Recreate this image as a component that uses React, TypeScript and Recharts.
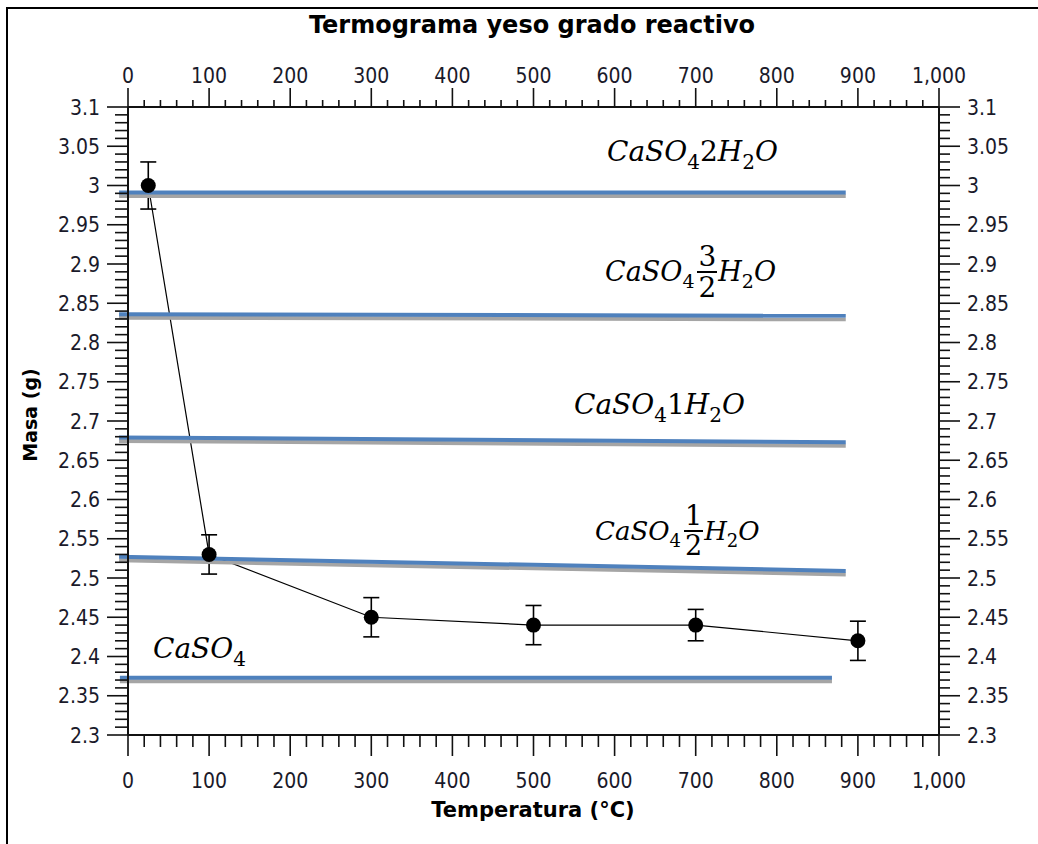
import React from 'react';
import {
  ComposedChart,
  Line,
  XAxis,
  YAxis,
  ErrorBar,
  ReferenceLine,
} from 'recharts';

// measured points (temperature °C, mass g, +- error)
const temps = [25, 100, 300, 500, 700, 900];
const masses = [3.0, 2.53, 2.45, 2.44, 2.44, 2.42];
const errors = [0.03, 0.025, 0.025, 0.025, 0.02, 0.025];

// theoretical hydrate levels (start/end of each band)
const levelStartT = [-11, -11, -11, -11, -10];
const levelEndT = [885, 885, 885, 885, 868];
const levelStartMass = [2.991, 2.836, 2.679, 2.527, 2.373];
const levelEndMass = [2.991, 2.834, 2.673, 2.509, 2.373];

// axis ticks: minor every 20 / 0.01, labels on the major ones
const xTicks = Array.from({ length: 51 }, (_, i) => i * 20);
const yTicks = Array.from({ length: 81 }, (_, i) => (230 + i) / 100);

const data = temps.map((t, i) => ({ temp: t, mass: masses[i], err: errors[i] }));

const TICK_FONT = "'DejaVu Sans Condensed', 'DejaVu Sans', sans-serif";
const AXIS = '#111';

const fmtX = (v: number) => v.toLocaleString('en-US');
const fmtY = (v: number) => String(parseFloat(v.toFixed(2)));

const XTick = (props: any) => {
  const { x, y, payload, side } = props;
  const v = payload.value as number;
  const major = Math.round(v) % 100 === 0;
  const top = side === 'top';
  const len = major ? (top ? 19 : 21) : top ? 7 : 12;
  const dir = top ? -1 : 1;
  return (
    <g>
      <line x1={x} x2={x} y1={y} y2={y + dir * len} stroke={AXIS} strokeWidth={1.6} />
      {major && (
        <text
          x={x}
          y={top ? y - 32 : y + 45}
          dy="0.36em"
          textAnchor="middle"
          fontFamily={TICK_FONT}
          fontSize={21}
          fill="#1a1a2a"
        >
          {fmtX(v)}
        </text>
      )}
    </g>
  );
};

const YTick = (props: any) => {
  const { x, y, payload, side } = props;
  const v = payload.value as number;
  const major = Math.round(v * 100) % 5 === 0;
  const right = side === 'right';
  const len = major ? 21 : right ? 11 : 13;
  const dir = right ? 1 : -1;
  return (
    <g>
      <line x1={x} x2={x + dir * len} y1={y} y2={y} stroke={AXIS} strokeWidth={1.6} />
      {major && (
        <text
          x={right ? x + 28 : x - 28}
          y={y}
          dy="0.36em"
          textAnchor={right ? 'start' : 'end'}
          fontFamily={TICK_FONT}
          fontSize={21}
          fill="#1a1a2a"
        >
          {fmtY(v)}
        </text>
      )}
    </g>
  );
};

// blue band with a grey shadow just below it
const LevelShape = (p: any) => (
  <g>
    <line x1={p.x1} y1={p.y1 + 3.5} x2={p.x2} y2={p.y2 + 3.5} stroke="#a5a5a5" strokeWidth={4} />
    <line x1={p.x1} y1={p.y1} x2={p.x2} y2={p.y2} stroke="#4f81bd" strokeWidth={4} />
  </g>
);

const Formula = ({
  left,
  baseline,
  coef,
  frac,
  size = 28,
}: {
  left: number;
  baseline: number;
  coef?: string;
  frac?: [string, string];
  size?: number;
}) => {
  const lh = size;
  const fracLh = size + 2;
  const subStyle: React.CSSProperties = {
    fontSize: Math.round(size * 0.7),
    fontStyle: 'normal',
    position: 'relative',
    top: Math.round(size * 0.27),
    lineHeight: 0,
  };
  const row: React.CSSProperties = { lineHeight: `${lh}px`, whiteSpace: 'nowrap' };
  // baseline sits ~0.85em below the top of a single row
  const rowBase = Math.round(size * 0.85);
  const top = frac ? baseline - (fracLh + 1 - lh / 2 + rowBase) : baseline - rowBase;
  return (
    <div
      style={{
        position: 'absolute',
        left,
        top,
        fontFamily: "'DejaVu Serif', serif",
        fontSize: size,
        fontStyle: 'italic',
        color: '#000',
        display: 'flex',
        alignItems: 'center',
      }}
    >
      <span style={row}>
        CaSO<span style={subStyle}>4</span>
        {coef && <span style={{ fontStyle: 'normal' }}>{coef}</span>}
      </span>
      {frac && (
        <span
          style={{
            display: 'inline-flex',
            flexDirection: 'column',
            alignItems: 'center',
            fontStyle: 'normal',
            fontSize: size + 1,
            margin: '0 1px 0 3px',
          }}
        >
          <span style={{ lineHeight: `${fracLh}px`, padding: '0 1px' }}>{frac[0]}</span>
          <span style={{ lineHeight: `${fracLh}px`, borderTop: '2px solid #000', padding: '0 1px' }}>{frac[1]}</span>
        </span>
      )}
      {(coef !== undefined || frac) && (
        <span style={row}>
          H<span style={subStyle}>2</span>O
        </span>
      )}
    </div>
  );
};

export default function App() {
  return (
    <div
      style={{
        position: 'fixed',
        left: 0,
        top: 0,
        width: 1038,
        height: 844,
        background: '#fff',
        overflow: 'hidden',
      }}
    >
      <div
        style={{
          position: 'absolute',
          left: 6,
          top: 7,
          width: 1100,
          height: 900,
          borderLeft: '2px solid #000',
          borderTop: '2px solid #000',
        }}
      />
      <div style={{ position: 'absolute', left: 0, top: 0 }}>
        <ComposedChart
          width={1038}
          height={844}
          data={data}
          margin={{ top: 57, right: 39, bottom: 59, left: 68 }}
        >
          <XAxis
            xAxisId="bottom"
            dataKey="temp"
            type="number"
            orientation="bottom"
            domain={[0, 1000]}
            allowDataOverflow
            ticks={xTicks}
            interval={0}
            height={50}
            tickSize={0}
            tickMargin={0}
            tickLine={false}
            axisLine={{ stroke: AXIS, strokeWidth: 2 }}
            tick={(p: any) => <XTick {...p} side="bottom" />}
          />
          <XAxis
            xAxisId="top"
            dataKey="temp"
            type="number"
            orientation="top"
            domain={[0, 1000]}
            allowDataOverflow
            ticks={xTicks}
            interval={0}
            height={50}
            tickSize={0}
            tickMargin={0}
            tickLine={false}
            axisLine={{ stroke: AXIS, strokeWidth: 2 }}
            tick={(p: any) => <XTick {...p} side="top" />}
          />
          <YAxis
            yAxisId="left"
            type="number"
            orientation="left"
            domain={[2.3, 3.1]}
            allowDataOverflow
            ticks={yTicks}
            interval={0}
            width={60}
            tickSize={0}
            tickMargin={0}
            tickLine={false}
            axisLine={{ stroke: AXIS, strokeWidth: 2 }}
            tick={(p: any) => <YTick {...p} side="left" />}
          />
          <YAxis
            yAxisId="right"
            type="number"
            orientation="right"
            domain={[2.3, 3.1]}
            allowDataOverflow
            ticks={yTicks}
            interval={0}
            width={60}
            tickSize={0}
            tickMargin={0}
            tickLine={false}
            axisLine={{ stroke: AXIS, strokeWidth: 2 }}
            tick={(p: any) => <YTick {...p} side="right" />}
          />
          {/* invisible twin so the top/right axes share the same data */}
          <Line
            xAxisId="top"
            yAxisId="right"
            dataKey="mass"
            stroke="transparent"
            dot={false}
            activeDot={false}
            legendType="none"
            isAnimationActive={false}
          />
          <Line
            xAxisId="bottom"
            yAxisId="left"
            dataKey="mass"
            stroke="#000"
            strokeWidth={1.2}
            dot={{ r: 7.5, fill: '#000', stroke: '#000', strokeWidth: 0 }}
            activeDot={false}
            isAnimationActive={false}
          >
            <ErrorBar dataKey="err" direction="y" width={8} stroke="#000" strokeWidth={1.6} />
          </Line>
          {levelStartMass.map((m, i) => (
            <ReferenceLine
              key={i}
              xAxisId="bottom"
              yAxisId="left"
              ifOverflow="visible"
              segment={[
                { x: levelStartT[i], y: m },
                { x: levelEndT[i], y: levelEndMass[i] },
              ]}
              shape={LevelShape}
            />
          ))}
        </ComposedChart>
      </div>

      <div
        style={{
          position: 'absolute',
          left: 0,
          width: 1064,
          top: 13,
          textAlign: 'center',
          fontFamily: "'DejaVu Sans', sans-serif",
          fontWeight: 'bold',
          fontSize: 24,
          lineHeight: '24px',
          color: '#000',
        }}
      >
        Termograma yeso grado reactivo
      </div>
      <div
        style={{
          position: 'absolute',
          left: 0,
          width: 1066,
          top: 800,
          textAlign: 'center',
          fontFamily: "'DejaVu Sans', sans-serif",
          fontWeight: 'bold',
          fontSize: 21,
          lineHeight: '21px',
          color: '#000',
        }}
      >
        Temperatura (°C)
      </div>
      <div
        style={{
          position: 'absolute',
          left: 30,
          top: 415,
          transform: 'translate(-50%, -50%) rotate(-90deg)',
          fontFamily: "'DejaVu Sans', sans-serif",
          fontWeight: 'bold',
          fontSize: 19,
          lineHeight: '19px',
          whiteSpace: 'nowrap',
          color: '#000',
        }}
      >
        Masa (g)
      </div>

      <Formula left={607} baseline={162} coef="2" />
      <Formula left={605} baseline={281} frac={['3', '2']} size={27} />
      <Formula left={574} baseline={415} coef="1" />
      <Formula left={595} baseline={540} frac={['1', '2']} size={26} />
      <Formula left={153} baseline={659} />
    </div>
  );
}
